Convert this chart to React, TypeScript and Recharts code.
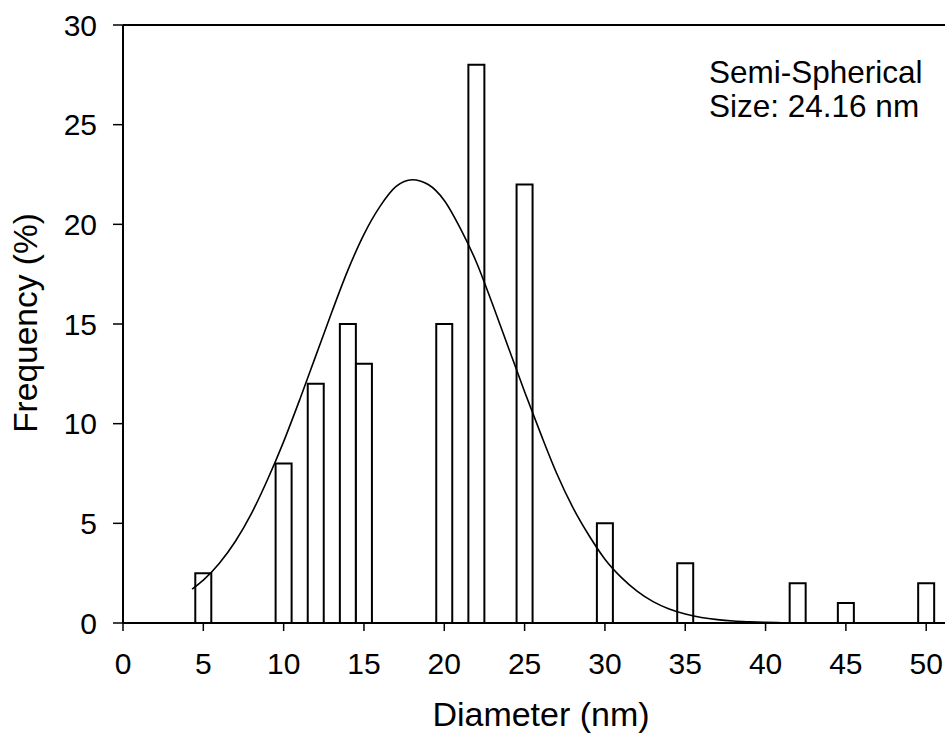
import React from "react";
import {
  ComposedChart,
  Bar,
  Line,
  XAxis,
  YAxis,
  ReferenceLine,
  Label,
} from "recharts";

// histogram bins (nm) and frequency (%)
const diameters = [5, 10, 12, 14, 15, 20, 22, 25, 30, 35, 42, 45, 50];
const frequency = [2.5, 8, 12, 15, 13, 15, 28, 22, 5, 3, 2, 1, 2];

// fitted curve
const fitX = [
  4.3, 5, 6, 7, 8, 9, 10, 11, 12, 13, 14, 15, 16, 17, 18, 19, 20, 21, 22, 23,
  24, 25, 26, 27, 28, 29, 30, 31, 32, 33, 34, 35, 36, 37, 38, 39, 40, 41,
];
const fitY = [
  1.7, 2.15, 3.0, 4.1, 5.5, 7.2, 9.1, 11.2, 13.4, 15.6, 17.7, 19.5, 20.9, 21.9,
  22.24, 22.0, 21.2, 19.8, 18.1, 16.0, 13.8, 11.6, 9.5, 7.5, 5.8, 4.4, 3.2, 2.3,
  1.6, 1.07, 0.7, 0.45, 0.28, 0.17, 0.1, 0.06, 0.03, 0.015,
];

const xTicks = [0, 5, 10, 15, 20, 25, 30, 35, 40, 45, 50];
const yTicks = [0, 5, 10, 15, 20, 25, 30];

const barData = diameters.map((d, i) => ({ d, freq: frequency[i] }));
const fitData = fitX.map((d, i) => ({ d, fit: fitY[i] }));

const FONT = '"Liberation Sans", Arial, sans-serif';
const X_DOMAIN: [number, number] = [0, 51.17];

export default function App() {
  return (
    <div style={{ position: "absolute", left: 0, top: 0, background: "#fff" }}>
      <ComposedChart
        width={945}
        height={735}
        data={barData}
        margin={{ top: 25, right: 0, bottom: 0, left: 0 }}
        style={{ fontFamily: FONT }}
      >
        <XAxis
          dataKey="d"
          type="number"
          domain={X_DOMAIN}
          ticks={xTicks}
          allowDataOverflow
          height={112}
          tickSize={8}
          tickMargin={22}
          axisLine={{ stroke: "#000", strokeWidth: 2 }}
          tickLine={{ stroke: "#000", strokeWidth: 1.5 }}
          tick={{ fill: "#000", fontSize: 30 }}
        >
          <Label
            content={() => (
              <text x={541} y={726} textAnchor="middle" fontSize={34} fill="#000">
                Diameter (nm)
              </text>
            )}
          />
        </XAxis>
        <XAxis
          xAxisId="fit"
          dataKey="d"
          type="number"
          domain={X_DOMAIN}
          allowDataOverflow
          hide
        />
        <YAxis
          type="number"
          domain={[0, 30]}
          ticks={yTicks}
          width={123}
          tickSize={10}
          tickMargin={16}
          axisLine={{ stroke: "#000", strokeWidth: 2 }}
          tickLine={{ stroke: "#000", strokeWidth: 1.5 }}
          tick={{ fill: "#000", fontSize: 30 }}
        >
          <Label
            content={() => (
              <text
                x={37}
                y={323}
                textAnchor="middle"
                fontSize={33.5}
                fill="#000"
                transform="rotate(-90 37 323)"
              >
                Frequency (%)
              </text>
            )}
          />
        </YAxis>
        <ReferenceLine y={30} stroke="#000" strokeWidth={2} />
        <Bar
          dataKey="freq"
          barSize={16}
          fill="#fff"
          stroke="#000"
          strokeWidth={2}
          isAnimationActive={false}
        />
        <Line
          xAxisId="fit"
          data={fitData}
          dataKey="fit"
          type="monotone"
          stroke="#000"
          strokeWidth={1.6}
          dot={false}
          activeDot={false}
          isAnimationActive={false}
        />
        <text x={709} y={82.7} fontSize={31.5} fill="#000" fontFamily={FONT}>
          Semi-Spherical
        </text>
        <text x={709} y={117.3} fontSize={31.5} fill="#000" fontFamily={FONT}>
          Size: 24.16 nm
        </text>
      </ComposedChart>
    </div>
  );
}
